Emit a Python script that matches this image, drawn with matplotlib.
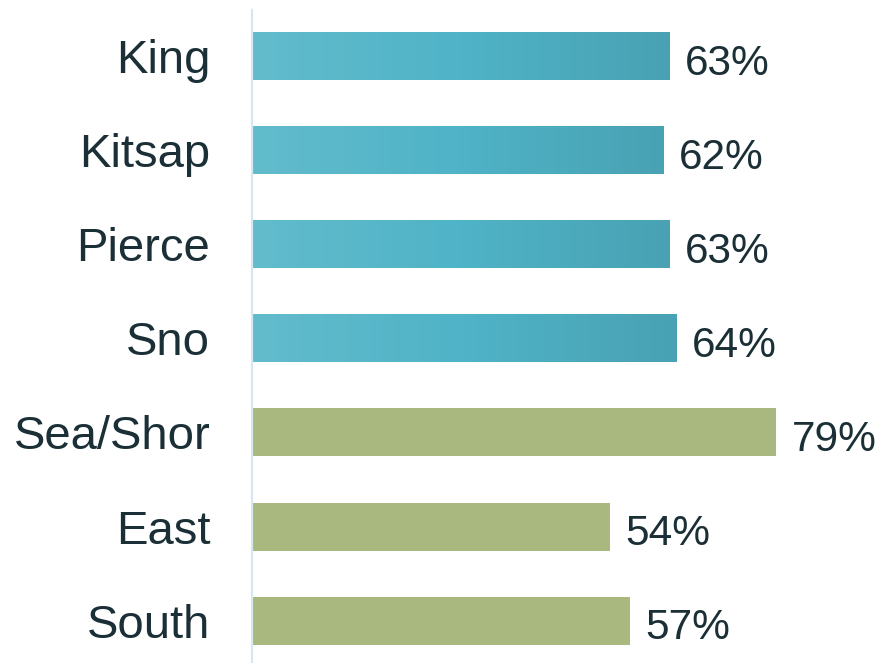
import numpy as np
import matplotlib
matplotlib.use("Agg")
import matplotlib.pyplot as plt
from matplotlib.colors import LinearSegmentedColormap

plt.rcParams["font.family"] = ["Liberation Sans", "DejaVu Sans"]

regions = ["King", "Kitsap", "Pierce", "Sno", "Sea/Shor", "East", "South"]
values = [63, 62, 63, 64, 79, 54, 57]
groups = ["county", "county", "county", "county", "sub", "sub", "sub"]

TEXT = "#1b2f36"
GREEN = "#a8b87e"
blue_cmap = LinearSegmentedColormap.from_list(
    "bluegrad", ["#62bccc", "#50b3c7", "#48a2b3"])

fig = plt.figure(figsize=(8.79, 6.63), dpi=100)
ax = fig.add_axes([252 / 879, 0, 1 - 252 / 879, 653 / 663])

y = np.arange(len(regions))
bars = ax.barh(y, values, height=0.51, color=GREEN, zorder=2)

# gradient fill for the county bars
grad = np.linspace(0, 1, 256).reshape(1, -1)
for bar, g in zip(bars, groups):
    if g == "county":
        bar.set_facecolor("none")
        x0, y0 = bar.get_x(), bar.get_y()
        w, h = bar.get_width(), bar.get_height()
        im = ax.imshow(grad, cmap=blue_cmap, aspect="auto",
                       extent=[x0, x0 + w, y0 + h, y0], zorder=2)
        im.set_clip_path(bar)

for yi, v in zip(y, values):
    ax.text(v + 2.3, yi + 0.2, f"{v}%", va="baseline", ha="left",
            fontsize=30.5, color=TEXT)

ax.set_xlim(0, 94.5)
ax.set_ylim(6.45, -0.49)
ax.set_yticks(y)
ax.set_yticklabels(regions, fontsize=34, color=TEXT)
ax.tick_params(axis="y", length=0, pad=30)
ax.set_xticks([])
for s in ["top", "right", "bottom"]:
    ax.spines[s].set_visible(False)
ax.spines["left"].set_color("#d5e8ef")
ax.spines["left"].set_linewidth(1.6)

fig.savefig("out.png", dpi=100)
